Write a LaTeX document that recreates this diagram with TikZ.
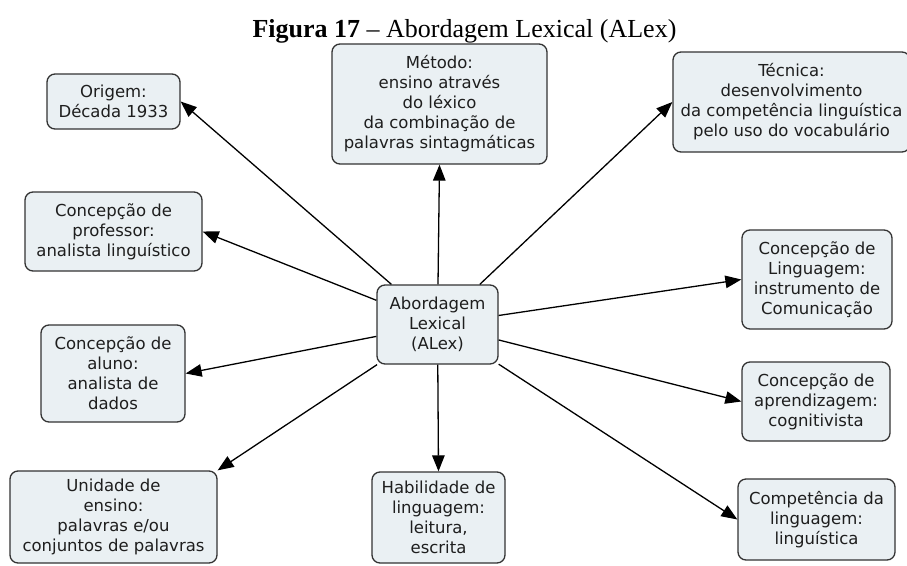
\documentclass[tikz,border=0pt]{standalone}
\usepackage{fontspec}
\setmainfont{DejaVu Sans}
\newfontfamily\titlefont{Liberation Serif}
\usetikzlibrary{arrows.meta}
\definecolor{boxfill}{HTML}{EAF0F3}
\definecolor{boxline}{HTML}{333333}
\definecolor{ink}{HTML}{1E1E1E}
\begin{document}
\begin{tikzpicture}[x=1pt,y=-1pt,
  concept/.style={draw=boxline, line width=1.3pt, fill=boxfill, rounded corners=8pt,
    align=center, text=ink, font=\fontsize{16.5}{20}\selectfont, inner sep=0pt},
  link/.style={draw=black, line width=1.3pt, -{Triangle[length=16pt,width=12.5pt]}}]
\useasboundingbox (0,0) rectangle (907,565);

% caption
\node[font=\titlefont\fontsize{26}{30}\selectfont, anchor=base] (title) at (464.5,37.5)
  {\textbf{Figura 17} – Abordagem Lexical (ALex)};

% central concept
\node[concept, minimum width=121pt, minimum height=79pt] (alex) at (437.5,324.5)
  {Abordagem\\Lexical\\(ALex)};

% surrounding concepts
\node[concept, minimum width=133pt, minimum height=55pt] (origem) at (113.5,101.5)
  {Origem:\\Década 1933};
\node[concept, minimum width=215pt, minimum height=120pt] (metodo) at (439.5,104)
  {Método:\\ensino através\\do léxico\\da combinação de\\palavras sintagmáticas};
\node[concept, minimum width=237pt, minimum height=100pt] (tecnica) at (791.5,102)
  {Técnica:\\desenvolvimento\\da competência linguística\\pelo uso do vocabulário};
\node[concept, minimum width=177pt, minimum height=79pt] (professor) at (113.5,231.5)
  {Concepção de\\professor:\\analista linguístico};
\node[concept, minimum width=150pt, minimum height=99pt] (linguagem) at (817,279.5)
  {Concepção de\\Linguagem:\\instrumento de\\Comunicação};
\node[concept, minimum width=144pt, minimum height=97pt] (aluno) at (113,373.5)
  {Concepção de\\aluno:\\analista de\\dados};
\node[concept, minimum width=148pt, minimum height=79pt] (aprend) at (816,401.5)
  {Concepção de\\aprendizagem:\\cognitivista};
\node[concept, minimum width=207pt, minimum height=92pt] (unidade) at (113.5,517)
  {Unidade de\\ensino:\\palavras e/ou\\conjuntos de palavras};
\node[concept, minimum width=133pt, minimum height=91pt] (habil) at (438.5,517.5)
  {Habilidade de\\linguagem:\\leitura,\\escrita};
\node[concept, minimum width=157pt, minimum height=81pt] (compet) at (816.5,519.5)
  {Competência da\\linguagem:\\linguística};

% links
\draw[link] (alex) -- (origem.east);
\draw[link] (alex) -- (metodo.south);
\draw[link] (alex) -- (tecnica.west);
\draw[link] (alex) -- (professor.east);
\draw[link] (alex) -- (linguagem.west);
\draw[link] (alex) -- (aluno.east);
\draw[link] (alex) -- (aprend.west);
\draw[link] (alex) -- (unidade.north east);
\draw[link] (alex) -- (habil.north);
\draw[link] (alex) -- (compet.west);
\end{tikzpicture}
\end{document}
